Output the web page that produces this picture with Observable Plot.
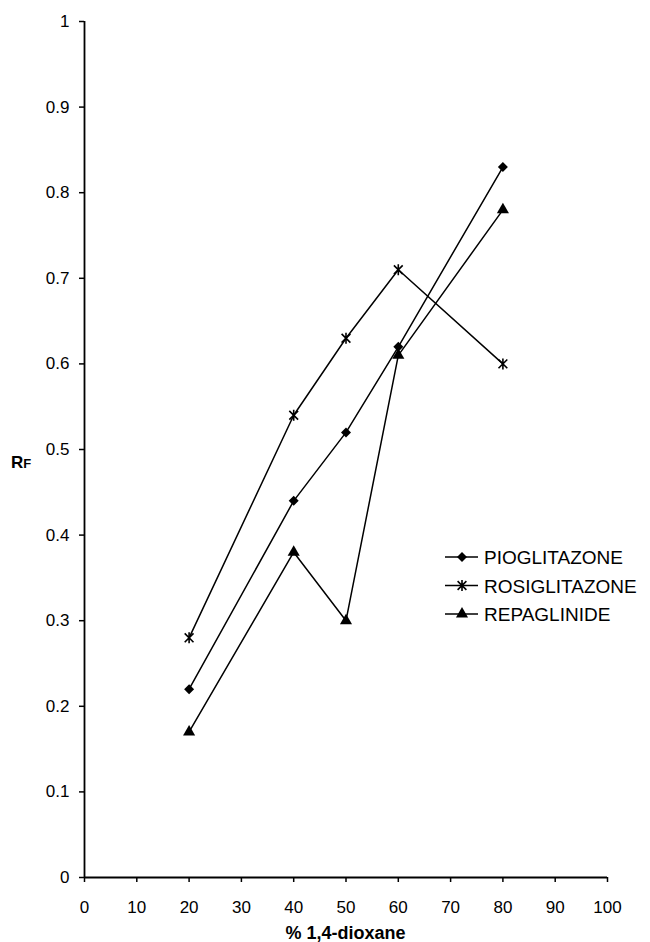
<!DOCTYPE html>
<html>
<head>
<meta charset="utf-8">
<script src="https://cdn.jsdelivr.net/npm/d3@7"></script>
<script src="https://cdn.jsdelivr.net/npm/@observablehq/plot@0.6"></script>
<style>
  html, body { margin: 0; padding: 0; background: #fff; }
  svg { font-family: "Liberation Sans", Arial, sans-serif; }
</style>
</head>
<body>
<div id="chart"></div>
<script>
const dioxane = [20, 40, 50, 60, 80];
const pioglitazone = [0.22, 0.44, 0.52, 0.62, 0.83];
const rosiglitazone = [0.28, 0.54, 0.63, 0.71, 0.60];
const repaglinide = [0.17, 0.38, 0.30, 0.61, 0.78];
const seriesNames = ["PIOGLITAZONE", "ROSIGLITAZONE", "REPAGLINIDE"];
const xTicks = [0, 10, 20, 30, 40, 50, 60, 70, 80, 90, 100];
const yTicks = [0, 0.1, 0.2, 0.3, 0.4, 0.5, 0.6, 0.7, 0.8, 0.9, 1];

// Excel-style star marker: an X plus a vertical bar
const starSymbol = {
  draw(context, size) {
    const r = Math.sqrt(size / Math.PI);
    const d = r * 0.8;
    context.moveTo(-d, -d); context.lineTo(d, d);
    context.moveTo(-d, d); context.lineTo(d, -d);
    context.moveTo(0, -r); context.lineTo(0, r);
  }
};
const seriesSymbols = [d3.symbolDiamond2, starSymbol, d3.symbolTriangle];

const valuesBySeries = [pioglitazone, rosiglitazone, repaglinide];
const data = [];
seriesNames.forEach((s, i) => dioxane.forEach((x, j) => data.push({series: s, x, y: valuesBySeries[i][j]})));

const W = 650, H = 942;
const chart = Plot.plot({
  width: W, height: H,
  marginLeft: 84, marginRight: 43, marginTop: 21, marginBottom: 65,
  style: {fontFamily: '"Liberation Sans", Arial, sans-serif', fontSize: "17px", color: "black", background: "white"},
  x: {domain: [0, 100], label: null},
  y: {domain: [0, 1], label: null},
  symbol: {domain: seriesNames, range: seriesSymbols},
  marks: [
    Plot.axisX({ticks: xTicks, tickSize: 5, tickPadding: 18, fontSize: 17, tickFormat: d => String(d), stroke: "black", strokeWidth: 1.5}),
    Plot.axisY({ticks: yTicks, tickSize: 5, tickPadding: 10, fontSize: 17, tickFormat: d => String(+d.toFixed(1)), stroke: "black", strokeWidth: 1.5}),
    Plot.ruleX([0], {stroke: "black", strokeWidth: 1.8}),
    Plot.ruleY([0], {stroke: "black", strokeWidth: 1.8}),
    Plot.line(data, {x: "x", y: "y", z: "series", stroke: "black", strokeWidth: 1.5}),
    Plot.dot(data.filter(d => d.series === "PIOGLITAZONE"), {x: "x", y: "y", symbol: "series", fill: "black", r: 4.5}),
    Plot.dot(data.filter(d => d.series === "ROSIGLITAZONE"), {x: "x", y: "y", symbol: "series", stroke: "black", strokeWidth: 1.6, r: 5.5}),
    Plot.dot(data.filter(d => d.series === "REPAGLINIDE"), {x: "x", y: "y", symbol: "series", fill: "black", r: 4.5})
  ]
});
document.getElementById("chart").appendChild(chart);

const svg = d3.select(chart);
// x-axis title
svg.append("text")
  .attr("x", (84 + (W - 43)) / 2).attr("y", 939)
  .attr("text-anchor", "middle").attr("font-size", 18).attr("font-weight", "bold")
  .attr("fill", "black").text("% 1,4-dioxane");
// y-axis title R with small-cap F
const yt = svg.append("text").attr("x", 11).attr("y", 468).attr("text-anchor", "start")
  .attr("font-size", 17).attr("font-weight", "bold").attr("fill", "black");
yt.append("tspan").text("R");
yt.append("tspan").attr("font-size", 13).text("F");

// legend
const symScale = chart.scale("symbol");
const lg = svg.append("g").attr("transform", "translate(445,557)");
seriesNames.forEach((name, i) => {
  const g = lg.append("g").attr("transform", `translate(0,${i * 28.5})`);
  g.append("line").attr("x1", 0).attr("x2", 33).attr("y1", 0).attr("y2", 0).attr("stroke", "black").attr("stroke-width", 1.5);
  const s = seriesSymbols[seriesNames.indexOf(name)];
  const isStar = s === starSymbol;
  const r = isStar ? 5.5 : 4.5;
  const path = d3.symbol(s, Math.PI * r * r)();
  g.append("path").attr("d", path).attr("transform", "translate(17,0)")
    .attr("fill", isStar ? "none" : "black").attr("stroke", "black").attr("stroke-width", isStar ? 1.6 : 0);
  g.append("text").attr("x", 39).attr("y", 7).attr("text-anchor", "start")
    .attr("font-size", 19).attr("fill", "black").text(name);
});
</script>
</body>
</html>
